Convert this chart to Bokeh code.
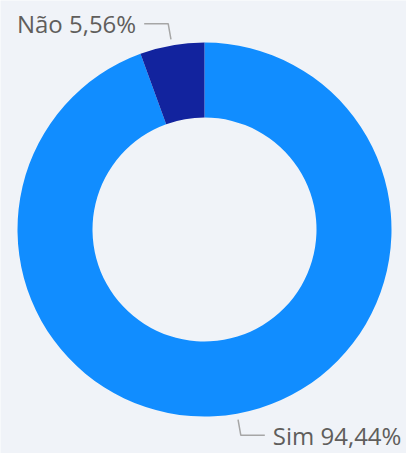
import numpy as np
from bokeh.plotting import figure
from bokeh.models import ColumnDataSource, Range1d
from bokeh.core.properties import value
from bokeh.embed import file_html
from bokeh.resources import INLINE

# ---- data ----
categories = ["Sim", "Não"]
percent = [94.44, 5.56]
labels = ["Sim 94,44%", "Não 5,56%"]
colors = ["#118DFF", "#12239E"]

W, H = 406, 453
BG = "#F0F3F8"
cx, cy = 204, 224
r_out, r_in = 187, 112

frac = np.array(percent) / sum(percent)
ends = np.pi / 2 - 2 * np.pi * np.cumsum(frac)
starts = np.concatenate([[np.pi / 2], ends[:-1]])
mids = (starts + ends) / 2

src = ColumnDataSource(dict(cat=categories, start=starts, end=ends, color=colors))

p = figure(width=W, height=H, output_backend="svg", toolbar_location=None,
           x_range=Range1d(0, W), y_range=Range1d(0, H),
           min_border=0, background_fill_color=BG, border_fill_color=BG,
           outline_line_color=None)
p.axis.visible = False
p.grid.visible = False

p.annular_wedge(x=cx, y=cy, inner_radius=r_in, outer_radius=r_out,
                start_angle="start", end_angle="end", direction="clock",
                color="color", line_color=None, source=src)

# leader lines and labels
r1, r2, ext, gap = 193, 209, 24, 8
for m, lab in zip(mids, labels):
    x1, y1 = cx + r1 * np.cos(m), cy + r1 * np.sin(m)
    x2, y2 = cx + r2 * np.cos(m), cy + r2 * np.sin(m)
    side = 1 if np.cos(m) >= 0 else -1
    x3 = x2 + side * ext
    p.line([x1, x2, x3], [y1, y2, y2], line_color="#A6A6A6", line_width=1.5)
    p.text(x=[x3 + side * gap], y=[y2], text=[lab],
           text_align="left" if side > 0 else "right",
           text_baseline="middle", text_font=value("Open Sans"),
           text_font_size="24px", text_color="#605E5C")

open("out.html", "w").write(file_html(p, INLINE))
